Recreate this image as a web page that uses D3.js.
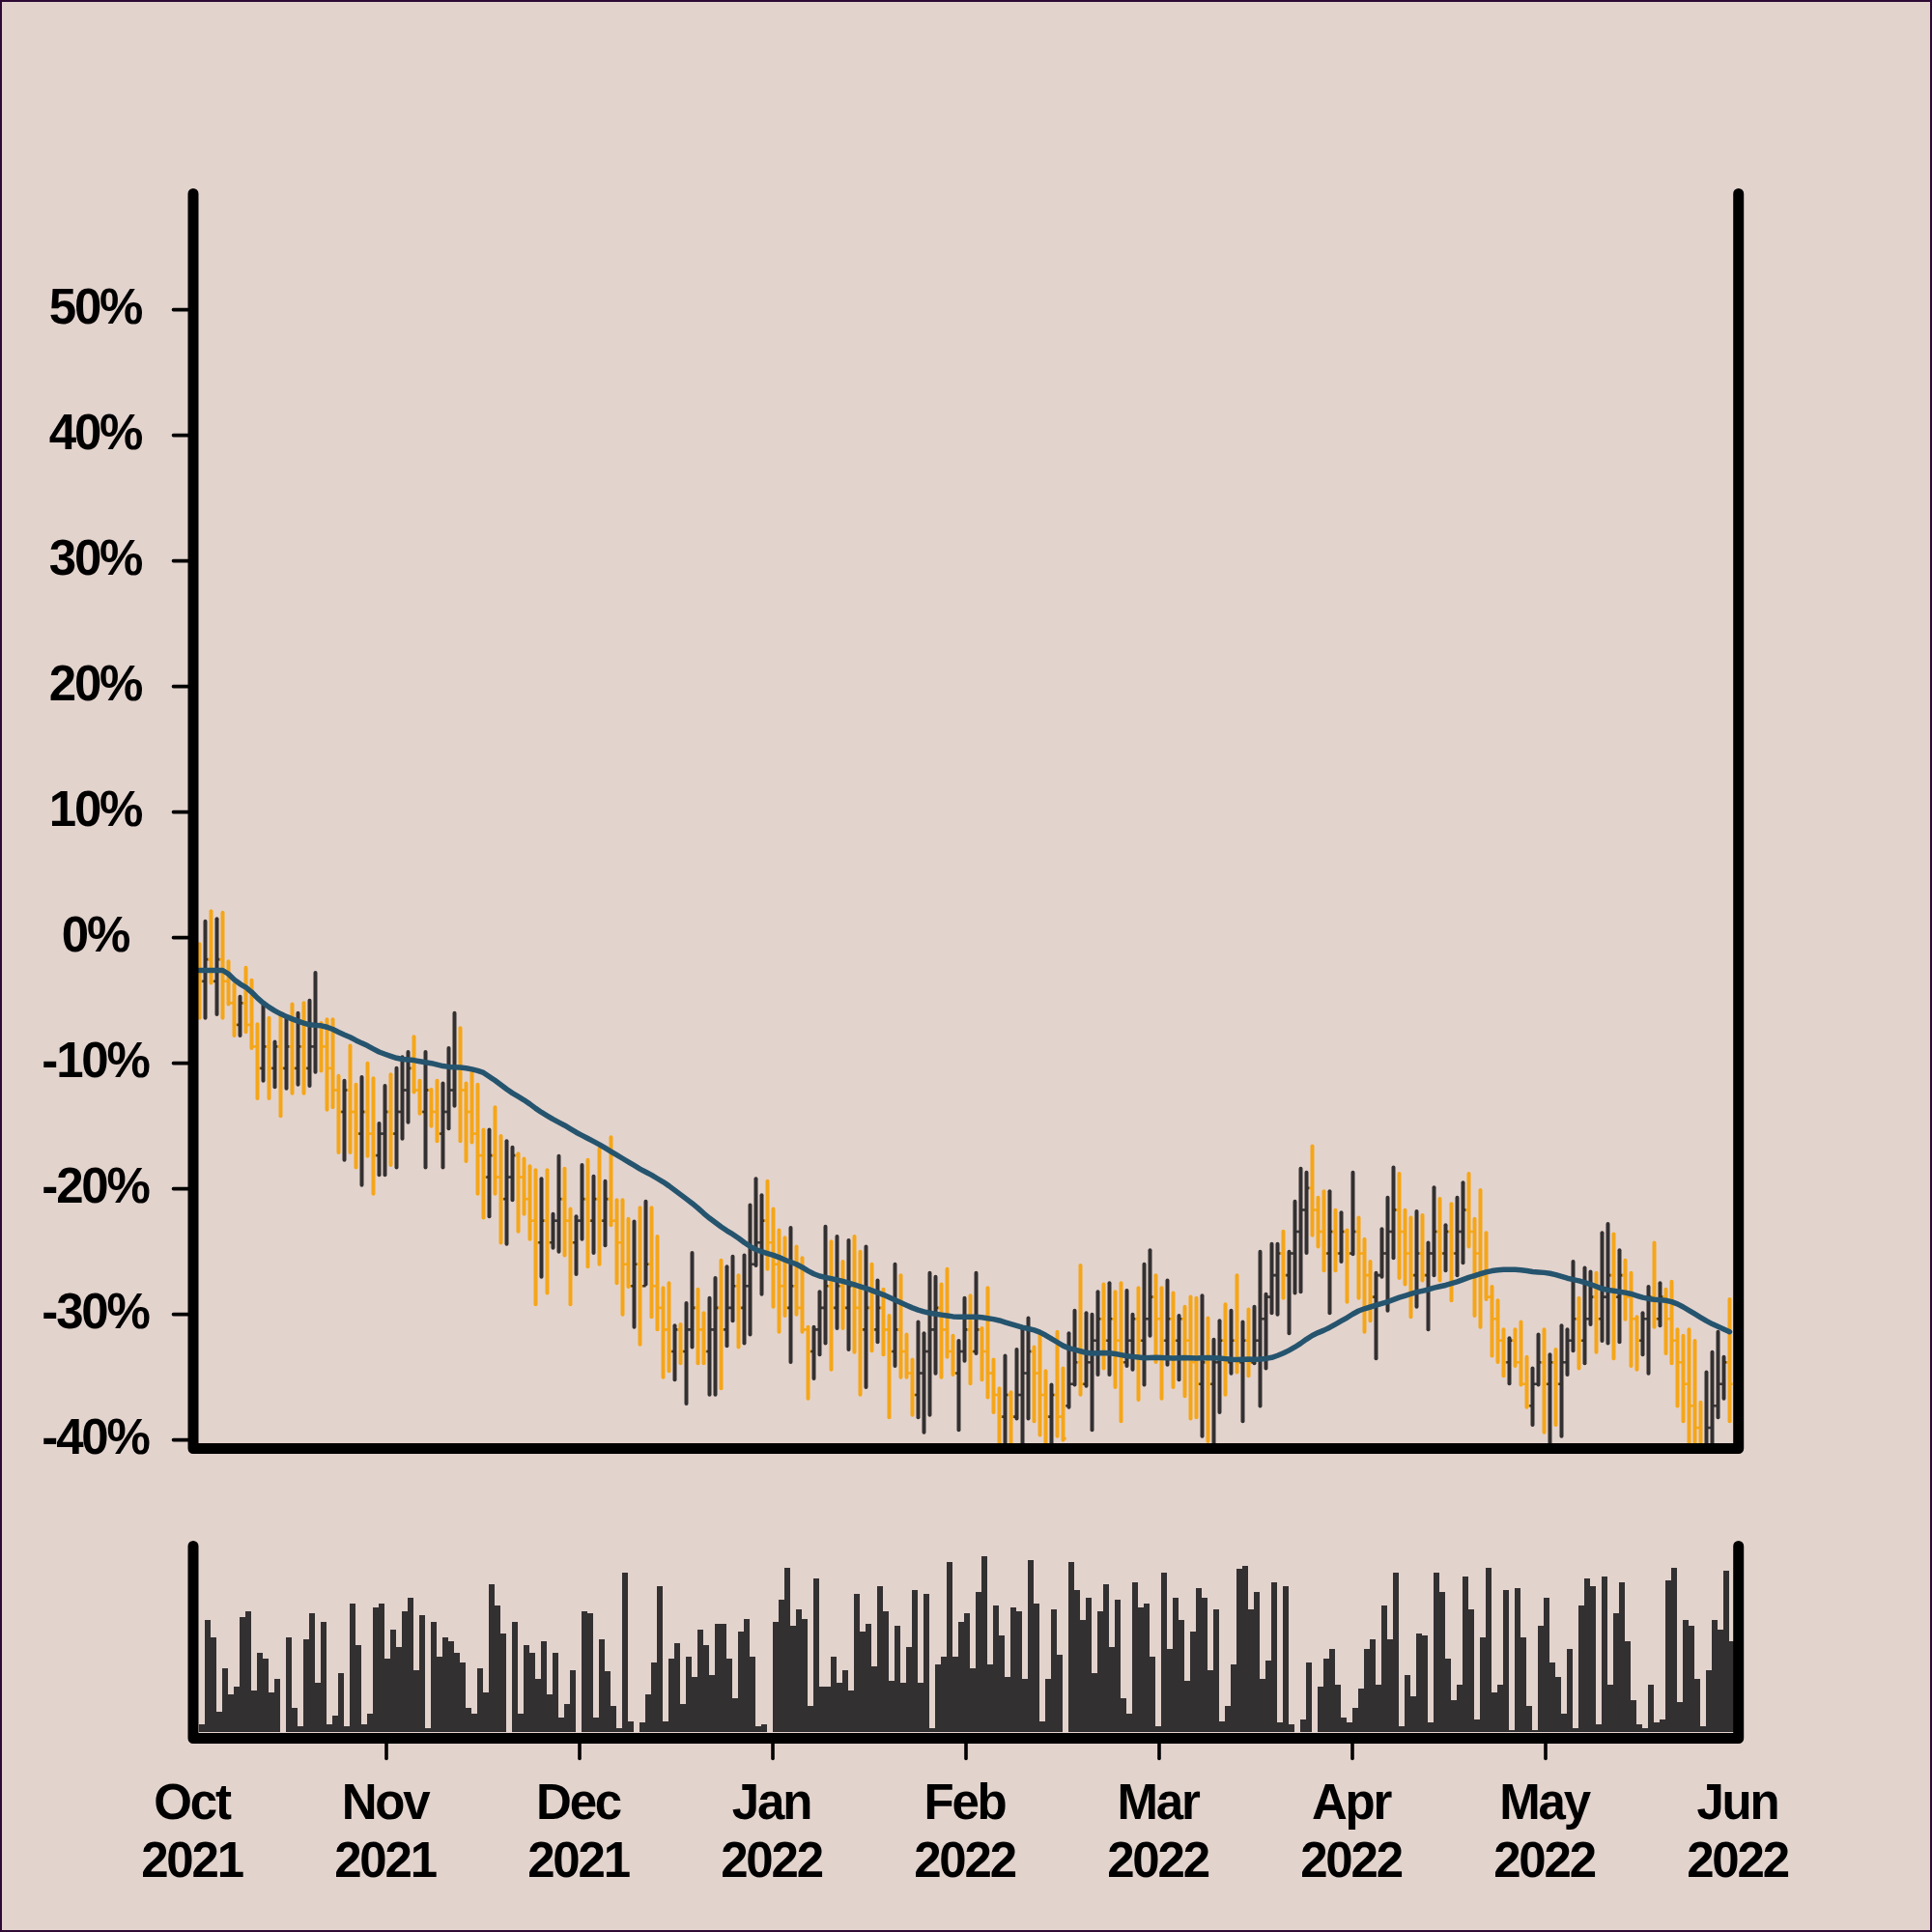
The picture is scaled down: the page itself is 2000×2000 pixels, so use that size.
<!DOCTYPE html>
<html><head><meta charset="utf-8">
<script src="https://cdn.jsdelivr.net/npm/d3@7"></script>
<style>html,body{margin:0;padding:0;background:#e3d3cd;}svg{display:block;}</style>
</head><body>
<svg id="chart" width="2000" height="2000"></svg>
<script>
// ---- data (percent change, one bar per session) ----
const openPct = [
-1.73,-3.47,-1.73,-3.47,-1.73,-3.47,-5.20,-6.94,-5.20,-6.94,
-8.67,-10.40,-8.67,-10.40,-8.67,-10.40,-8.67,-10.40,-8.67,-10.40,
-8.67,-6.94,-8.67,-10.40,-12.14,-13.87,-12.14,-13.87,-15.61,-13.87,
-15.61,-17.34,-15.61,-13.87,-15.61,-13.87,-12.14,-10.40,-12.14,-13.87,
-12.14,-13.87,-15.61,-13.87,-12.14,-10.40,-12.14,-13.87,-15.61,-17.34,
-19.07,-17.34,-19.07,-20.81,-19.07,-17.34,-19.07,-20.81,-22.54,-24.28,
-22.54,-24.28,-22.54,-20.81,-22.54,-24.28,-22.54,-20.81,-22.54,-20.81,
-22.54,-20.81,-22.54,-24.28,-26.01,-27.74,-26.01,-27.74,-26.01,-27.74,
-29.48,-31.21,-32.95,-31.21,-32.95,-31.21,-29.48,-31.21,-32.95,-31.21,
-29.48,-31.21,-29.48,-27.74,-29.48,-27.74,-26.01,-24.28,-22.54,-24.28,
-26.01,-27.74,-29.48,-27.74,-29.48,-31.21,-32.95,-31.21,-29.48,-27.74,
-29.48,-27.74,-29.48,-27.74,-29.48,-31.21,-29.48,-31.21,-29.48,-31.21,
-32.95,-31.21,-32.95,-34.68,-36.41,-34.68,-32.95,-31.21,-29.48,-31.21,
-32.95,-34.68,-32.95,-31.21,-32.95,-31.21,-32.95,-34.68,-36.41,-38.15,
-36.41,-38.15,-36.41,-34.68,-32.95,-34.68,-36.41,-38.15,-36.41,-38.15,
-37.28,-35.55,-33.81,-35.55,-33.81,-32.08,-30.35,-32.08,-30.35,-32.08,
-33.81,-32.08,-30.35,-32.08,-30.35,-28.61,-30.35,-32.08,-30.35,-32.08,
-30.35,-32.08,-33.81,-35.55,-33.81,-35.55,-33.81,-32.08,-33.81,-32.08,
-33.81,-32.08,-33.81,-32.08,-30.35,-28.61,-26.88,-25.14,-26.88,-25.14,
-23.41,-21.68,-19.94,-21.68,-23.41,-25.14,-23.41,-25.14,-23.41,-25.14,
-23.41,-25.14,-26.88,-28.61,-26.88,-25.14,-23.41,-21.68,-23.41,-25.14,
-26.88,-25.14,-26.88,-25.14,-23.41,-25.14,-23.41,-25.14,-23.41,-21.68,
-23.41,-25.14,-26.88,-28.61,-30.35,-32.08,-33.81,-32.08,-33.81,-35.55,
-37.28,-35.55,-33.81,-35.55,-33.81,-35.55,-33.81,-32.08,-30.35,-32.08,
-30.35,-28.61,-30.35,-28.61,-26.88,-28.61,-26.88,-28.61,-30.35,-32.08,
-30.35,-28.61,-30.35,-28.61,-30.35,-32.08,-33.81,-35.55,-37.28,-39.02,
-40.75,-39.02,-37.28,-35.55,-33.81];

const highPct = [
-0.5,1.3,2.1,1.5,2.0,-1.9,-3.7,-4.7,-2.4,-3.4,
-6.9,-5.4,-6.4,-8.3,-6.0,-6.4,-5.3,-6.0,-5.2,-5.0,
-2.8,-6.8,-6.5,-6.5,-11.0,-11.4,-8.6,-11.7,-11.1,-10.0,
-11.2,-14.8,-11.8,-10.9,-10.4,-9.5,-9.1,-7.9,-11.4,-9.1,
-12.1,-11.4,-11.6,-8.8,-6.0,-7.2,-11.6,-10.7,-11.7,-15.3,
-15.3,-13.5,-15.8,-16.2,-16.7,-17.2,-17.6,-18.2,-18.5,-19.2,
-18.5,-22.0,-17.4,-18.4,-21.6,-22.2,-18.1,-17.7,-19.0,-16.8,
-19.4,-15.9,-20.9,-20.9,-22.4,-22.6,-21.5,-21.0,-21.5,-23.8,
-27.9,-27.5,-30.9,-30.8,-29.1,-25.1,-28.0,-29.9,-28.7,-27.1,
-25.7,-26.2,-25.4,-26.9,-25.3,-21.3,-19.2,-20.5,-19.4,-21.6,
-23.3,-23.9,-23.1,-24.6,-25.5,-31.0,-31.0,-28.2,-23.0,-24.2,
-23.8,-25.8,-24.1,-23.8,-25.0,-24.6,-26.0,-27.3,-28.0,-30.1,
-26.0,-26.9,-31.6,-33.6,-30.6,-31.5,-26.7,-27.0,-27.6,-26.4,
-31.7,-32.1,-28.7,-28.5,-26.7,-31.1,-27.9,-33.6,-35.9,-33.3,
-36.2,-32.8,-31.2,-30.3,-32.6,-31.5,-34.5,-35.6,-31.4,-34.3,
-31.5,-29.7,-26.1,-29.9,-30.0,-28.2,-27.6,-27.5,-28.2,-27.5,
-28.1,-30.0,-27.9,-26.0,-24.9,-26.9,-27.9,-27.3,-28.3,-30.1,
-29.4,-28.6,-28.7,-28.5,-30.3,-32.0,-30.5,-29.2,-29.7,-26.9,
-30.6,-29.6,-29.4,-25.0,-28.4,-24.4,-24.4,-23.4,-25.0,-21.0,
-18.4,-18.7,-16.6,-20.7,-20.2,-20.2,-21.7,-21.9,-23.3,-18.7,
-22.3,-24.0,-25.8,-26.7,-23.2,-20.7,-18.3,-18.8,-21.7,-22.3,
-21.8,-22.1,-24.3,-19.9,-20.8,-22.9,-21.2,-20.7,-19.5,-18.8,
-22.4,-20.1,-23.5,-27.8,-28.9,-31.2,-31.9,-31.2,-30.6,-33.4,
-34.3,-31.6,-31.2,-33.2,-32.8,-30.9,-31.2,-25.8,-28.7,-26.3,
-26.6,-26.7,-23.5,-22.8,-23.6,-24.9,-25.7,-26.7,-30.2,-29.9,
-27.8,-24.3,-27.5,-28.0,-27.4,-31.2,-31.7,-31.2,-32.1,-37.0,
-34.6,-33.0,-31.4,-33.4,-28.8];

const lowPct = [
-6.4,-6.4,-3.6,-6.1,-6.4,-5.3,-7.8,-7.8,-7.5,-8.8,
-12.8,-11.4,-12.8,-11.9,-14.2,-12.0,-12.4,-11.7,-12.4,-11.8,
-10.7,-10.6,-13.7,-13.5,-17.1,-17.7,-17.1,-18.3,-19.7,-17.4,
-20.4,-18.9,-18.9,-18.1,-18.3,-16.0,-14.7,-12.3,-14.0,-18.3,
-15.0,-16.2,-18.3,-15.2,-13.4,-16.2,-17.8,-16.3,-20.4,-22.3,
-22.2,-20.4,-24.3,-24.4,-20.9,-23.4,-22.0,-24.0,-29.2,-27.0,
-28.3,-24.7,-25.0,-25.3,-29.2,-26.8,-24.0,-26.2,-25.1,-26.0,
-24.5,-22.9,-27.5,-30.0,-27.8,-31.0,-32.4,-27.6,-30.2,-31.2,
-35.0,-34.5,-35.2,-33.9,-37.1,-32.6,-33.9,-33.9,-36.4,-36.4,
-35.9,-32.5,-30.5,-32.6,-32.3,-31.6,-26.1,-28.4,-26.4,-29.4,
-31.4,-30.1,-33.8,-30.0,-31.4,-36.7,-35.1,-33.2,-32.3,-34.4,
-31.1,-31.1,-32.8,-33.0,-36.4,-35.8,-32.9,-32.2,-33.2,-38.2,
-34.1,-35.0,-35.0,-38.0,-38.2,-39.4,-38.0,-34.7,-35.0,-33.4,
-34.8,-39.2,-33.7,-35.5,-33.1,-35.2,-36.6,-37.8,-41.5,-41.5,
-41.5,-38.3,-41.0,-38.3,-38.5,-39.6,-41.0,-41.5,-39.7,-40.0,
-37.4,-35.6,-36.4,-35.7,-39.2,-34.8,-34.3,-34.8,-35.8,-38.5,
-34.1,-34.4,-36.8,-35.6,-31.7,-33.8,-36.7,-34.0,-35.8,-35.2,
-36.5,-38.3,-38.2,-39.7,-40.1,-40.2,-37.8,-36.4,-34.7,-34.6,
-38.5,-34.9,-33.9,-37.3,-34.3,-29.9,-30.0,-28.7,-31.5,-28.3,
-28.2,-25.1,-23.7,-24.6,-26.5,-29.9,-26.5,-25.8,-29.0,-25.2,
-28.7,-31.4,-30.5,-33.5,-27.0,-29.7,-25.5,-27.1,-27.6,-30.2,
-29.4,-27.3,-31.2,-26.9,-27.3,-26.5,-28.9,-26.9,-25.9,-24.6,
-30.1,-31.0,-28.8,-33.3,-33.8,-34.9,-35.5,-34.1,-35.6,-37.4,
-38.8,-35.6,-39.4,-41.0,-38.8,-39.7,-34.8,-32.9,-34.3,-33.9,
-30.8,-33.0,-32.1,-32.3,-33.5,-32.2,-30.4,-34.1,-34.4,-33.2,
-34.7,-31.0,-30.9,-33.1,-33.9,-37.3,-38.5,-41.0,-41.0,-41.5,
-41.5,-41.0,-38.2,-36.7,-38.5];

const closePct = [
-3.47,-1.73,-3.47,-1.73,-3.47,-5.20,-6.94,-5.20,-6.94,-8.67,
-10.40,-8.67,-10.40,-8.67,-10.40,-8.67,-10.40,-8.67,-10.40,-8.67,
-6.94,-8.67,-10.40,-12.14,-13.87,-12.14,-13.87,-15.61,-13.87,-15.61,
-17.34,-15.61,-13.87,-15.61,-13.87,-12.14,-10.40,-12.14,-13.87,-12.14,
-13.87,-15.61,-13.87,-12.14,-10.40,-12.14,-13.87,-15.61,-17.34,-19.07,
-17.34,-19.07,-20.81,-19.07,-17.34,-19.07,-20.81,-22.54,-24.28,-22.54,
-24.28,-22.54,-20.81,-22.54,-24.28,-22.54,-20.81,-22.54,-20.81,-22.54,
-20.81,-22.54,-24.28,-26.01,-27.74,-26.01,-27.74,-26.01,-27.74,-29.48,
-31.21,-32.95,-31.21,-32.95,-31.21,-29.48,-31.21,-32.95,-31.21,-29.48,
-31.21,-29.48,-27.74,-29.48,-27.74,-26.01,-24.28,-22.54,-24.28,-26.01,
-27.74,-29.48,-27.74,-29.48,-31.21,-32.95,-31.21,-29.48,-27.74,-29.48,
-27.74,-29.48,-27.74,-29.48,-31.21,-29.48,-31.21,-29.48,-31.21,-32.95,
-31.21,-32.95,-34.68,-36.41,-34.68,-32.95,-31.21,-29.48,-31.21,-32.95,
-34.68,-32.95,-31.21,-32.95,-31.21,-32.95,-34.68,-36.41,-38.15,-36.41,
-38.15,-36.41,-34.68,-32.95,-34.68,-36.41,-38.15,-36.41,-38.15,-39.88,
-35.55,-33.81,-35.55,-33.81,-32.08,-30.35,-32.08,-30.35,-32.08,-33.81,
-32.08,-30.35,-32.08,-30.35,-28.61,-30.35,-32.08,-30.35,-32.08,-30.35,
-32.08,-33.81,-35.55,-33.81,-35.55,-33.81,-32.08,-33.81,-32.08,-33.81,
-32.08,-33.81,-32.08,-30.35,-28.61,-26.88,-25.14,-26.88,-25.14,-23.41,
-21.68,-19.94,-21.68,-23.41,-25.14,-23.41,-25.14,-23.41,-25.14,-23.41,
-25.14,-26.88,-28.61,-26.88,-25.14,-23.41,-21.68,-23.41,-25.14,-26.88,
-25.14,-26.88,-25.14,-23.41,-25.14,-23.41,-25.14,-23.41,-21.68,-23.41,
-25.14,-26.88,-28.61,-30.35,-32.08,-33.81,-32.08,-33.81,-35.55,-37.28,
-35.55,-33.81,-35.55,-33.81,-35.55,-33.81,-32.08,-30.35,-32.08,-30.35,
-28.61,-30.35,-28.61,-26.88,-28.61,-26.88,-28.61,-30.35,-32.08,-30.35,
-28.61,-30.35,-28.61,-30.35,-32.08,-33.81,-35.55,-37.28,-39.02,-40.75,
-39.02,-37.28,-35.55,-33.81,-35.55];

const volume = [
4,59,50,11,34,20,24,61,64,22,
42,39,21,28,0,50,13,3,49,63,
26,58,4,9,31,3,68,46,4,10,
66,68,39,54,45,64,71,33,62,2,
58,40,50,48,42,37,13,10,34,21,
78,67,52,0,58,10,46,42,28,48,
20,42,8,15,33,0,64,63,8,49,
32,14,2,84,6,0,5,20,37,77,
6,39,47,15,40,29,54,46,30,57,
57,39,18,53,60,40,3,4,0,58,
70,87,56,65,60,14,81,24,24,40,
26,33,22,73,53,57,35,77,64,27,
56,26,45,75,26,73,2,36,40,90,
40,58,63,34,74,93,36,67,51,29,
66,64,28,91,68,6,28,65,41,0,
90,75,59,71,31,64,78,45,70,18,
10,79,66,68,40,3,84,44,71,59,
27,53,76,71,33,65,6,14,36,86,
88,65,74,28,38,79,5,77,4,0,
7,37,0,24,39,44,25,8,5,13,
23,44,49,25,67,49,84,3,30,19,
52,51,5,84,74,39,17,25,82,65,
7,50,87,21,25,75,1,76,50,14,
1,56,71,37,29,10,44,2,67,81,
77,4,82,25,63,79,48,17,4,2,
25,5,7,80,87,16,59,56,28,3,
33,59,54,85,48];

const monthLabels = ["Oct","Nov","Dec","Jan","Feb","Mar","Apr","May","Jun"];
const yearLabels  = ["2021","2021","2021","2022","2022","2022","2022","2022","2022"];
const yTickValues = [-40,-30,-20,-10,0,10,20,30,40,50];
const yTickLabels = ["-40%","-30%","-20%","-10%","0%","10%","20%","30%","40%","50%"];
const maWindow = 50;

// ---- drawing ----
const W = 2000, H = 2000;
const BG = "#e3d3cd", INK = "#000000", DARK = "#333031", ORANGE = "#f5a618", MA = "#25546e";
const FONT = "'Liberation Sans', Arial, Helvetica, sans-serif";

const svg = d3.select("#chart");
svg.append("rect").attr("width", W).attr("height", H).attr("fill", BG);
svg.append("rect").attr("x", 1).attr("y", 1).attr("width", W - 2).attr("height", H - 2)
  .attr("fill", "none").attr("stroke", "#2e0b33").attr("stroke-width", 2);

const N = closePct.length;
const xBand = d3.scaleBand().domain(d3.range(N)).range([206, 1796]).padding(0);
const px = i => xBand(i) + 0.5;
const y = d3.scaleLinear().domain([-40, 50]).range([1490.67, 320.67]);
const yVol = d3.scaleLinear().domain([0, 100]).range([1793.3, 1597]);
const xMonth = d3.scalePoint().domain(monthLabels).range([200, 1800]);

const defs = svg.append("defs");
defs.append("clipPath").attr("id", "priceClip").append("rect")
  .attr("x", 200).attr("y", 150).attr("width", 1600).attr("height", 1349.5);

const bars = d3.range(N).map(i => ({ i, o: openPct[i], h: highPct[i], l: lowPct[i], c: closePct[i] }));

const gPrice = svg.append("g").attr("clip-path", "url(#priceClip)");
const gb = gPrice.selectAll("g.ohlc").data(bars).join("g").attr("class", "ohlc")
  .attr("stroke", d => d.c > d.o ? DARK : ORANGE);
gb.append("line")
  .attr("x1", d => px(d.i)).attr("x2", d => px(d.i))
  .attr("y1", d => y(d.h)).attr("y2", d => y(d.l))
  .attr("stroke-width", 4).attr("stroke-linecap", "round");
gb.append("line")
  .attr("x1", d => px(d.i) - 3.2).attr("x2", d => px(d.i))
  .attr("y1", d => y(d.o)).attr("y2", d => y(d.o))
  .attr("stroke-width", 2.6);
gb.append("line")
  .attr("x1", d => px(d.i)).attr("x2", d => px(d.i) + 3.2)
  .attr("y1", d => y(d.c)).attr("y2", d => y(d.c))
  .attr("stroke-width", 2.6);

// moving average of the bar mid (open/close) over maWindow sessions
const mid = bars.map(d => (d.o + d.c) / 2);
const ma = mid.map((_, i) => d3.mean(mid.slice(Math.max(0, i - maWindow + 1), i + 1)));
gPrice.append("path").datum(ma)
  .attr("fill", "none").attr("stroke", MA).attr("stroke-width", 5.5)
  .attr("stroke-linejoin", "round").attr("stroke-linecap", "round")
  .attr("d", d3.line().x((d, i) => px(i)).y(d => y(d)));

// price frame
svg.append("path").attr("d", "M200,200.5V1499.5H1799.7V200.5")
  .attr("fill", "none").attr("stroke", INK).attr("stroke-width", 11)
  .attr("stroke-linecap", "round").attr("stroke-linejoin", "round");

// y ticks + labels
const gy = svg.append("g");
gy.selectAll("line").data(yTickValues).join("line")
  .attr("x1", 179.5).attr("x2", 198).attr("y1", d => y(d)).attr("y2", d => y(d))
  .attr("stroke", INK).attr("stroke-width", 3.6).attr("stroke-linecap", "round");
gy.selectAll("text").data(yTickValues).join("text")
  .attr("x", 98.5).attr("y", d => y(d) + 14.3)
  .attr("text-anchor", "middle")
  .attr("font-family", FONT).attr("font-weight", "bold").attr("font-size", 51)
  .attr("letter-spacing", "-2.2px").attr("fill", INK)
  .text((d, i) => yTickLabels[i]);

// volume bars
svg.append("g").selectAll("rect").data(volume).join("rect")
  .attr("x", (d, i) => xBand(i)).attr("width", xBand.bandwidth())
  .attr("y", d => yVol(d)).attr("height", d => yVol(0) - yVol(d))
  .attr("fill", DARK).attr("shape-rendering", "crispEdges");

// volume frame
svg.append("path").attr("d", "M200,1600.5V1799.5H1799.7V1600.5")
  .attr("fill", "none").attr("stroke", INK).attr("stroke-width", 11)
  .attr("stroke-linecap", "round").attr("stroke-linejoin", "round");

// x ticks + labels
const gx = svg.append("g");
gx.selectAll("line").data(monthLabels.slice(1, -1)).join("line")
  .attr("x1", d => xMonth(d)).attr("x2", d => xMonth(d))
  .attr("y1", 1802).attr("y2", 1820.5)
  .attr("stroke", INK).attr("stroke-width", 3.6).attr("stroke-linecap", "round");
const lab = gx.selectAll("text").data(monthLabels).join("text")
  .attr("text-anchor", "middle")
  .attr("font-family", FONT).attr("font-weight", "bold").attr("font-size", 51)
  .attr("letter-spacing", "-2.2px").attr("fill", INK);
lab.append("tspan").attr("x", d => xMonth(d) - 1.5).attr("y", 1883.3).text(d => d);
lab.append("tspan").attr("x", d => xMonth(d) - 1.5).attr("y", 1943.3).text((d, i) => yearLabels[i]);
</script>
</body></html>
